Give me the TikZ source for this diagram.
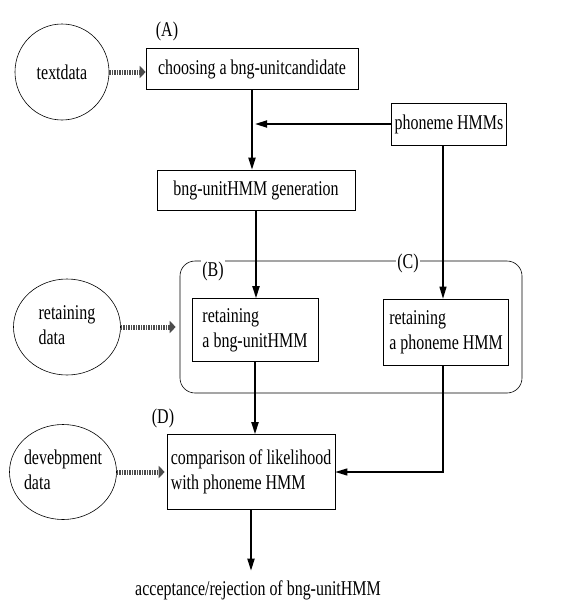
\documentclass[tikz,border=0pt]{standalone}
\usepackage{fontspec}
\setmainfont[FakeStretch=0.76]{Liberation Serif}
\usetikzlibrary{arrows.meta,positioning,shapes.geometric}
\newcommand{\squeeze}[1]{\makebox[0pt]{\begin{tabular}{@{}l@{}}#1\end{tabular}}}

\begin{document}
\begin{tikzpicture}[x=1pt, y=-1pt, semithick,
	every node/.style={font=\fontsize{21}{25}\selectfont},
    procbox/.style={draw, rectangle, align=left, inner sep=0pt},
    source/.style={draw, ellipse, inner sep=0pt},
    flow/.style={-{Triangle[length=12pt,width=7pt]}, line width=1.8pt},
    feed/.style={-{Triangle[length=12pt,width=7pt]}, line width=1.1pt},
    hatch/.style={line width=5pt, draw=black!70, dash pattern=on 1.4pt off 1.1pt,
        -{Triangle[length=6pt,width=12pt]}},
    tag/.style={fill=white, inner sep=1pt}
    ]
\useasboundingbox (0,0) rectangle (572,603);
% \draw[help lines, step=50] (0,0) grid (572,603);
\node[draw, rounded corners=15pt, minimum width=342, minimum height=132] (retrain) at (351,327) {};

\node[procbox, minimum width=212, minimum height=41] (choose) at (252,69) {choosing a bng-unitcandidate};
\node[procbox, minimum width=115, minimum height=42] (phon)   at (449,124) {phoneme HMMs};
\node[procbox, minimum width=198, minimum height=40] (gen)    at (256,190) {bng-unitHMM generation};
\node[procbox, minimum width=126, minimum height=63] (trlong) at (255,330) {retaining\\a bng-unitHMM};
\node[procbox, minimum width=125, minimum height=66] (trphon) at (446,332) {retaining\\a phoneme HMM};
\node[procbox, minimum width=168, minimum height=75] (comp)   at (251,472) {comparison of likelihood\\with phoneme HMM};
\node (result) at (258,590) {acceptance/rejection of bng-unitHMM};

\node[source, minimum width=94,  minimum height=96] (text)    at (62,72)  {textdata};
\node[source, minimum width=107, minimum height=96] (trdata)  at (67,327) {\squeeze{retaining\\data}};
\node[source, minimum width=107, minimum height=95] (devdata) at (63,472) {\squeeze{devebpment\\data}};

% labels of the steps
\node[tag] (tagA) at (167,31)  {(A)};
\node[tag] (tagB) at (213,271) {(B)};
\node[tag] (tagC) at (408,263) {(C)};
\node[tag] (tagD) at (163,418) {(D)};

% data feeding
\draw[hatch] (text.east)    -- (text.east -| choose.west);
\draw[hatch] (trdata.east)  -- ([xshift=-4pt]trdata.east -| retrain.west);
\draw[hatch] (devdata.east) -- ([xshift=-2pt]devdata.east -| comp.west);

% main flow
\draw[flow] (choose.south) -- (choose.south |- gen.north);
\draw[flow] (phon.west) -- ([xshift=3pt]phon.west -| choose.south);
\draw[flow] (gen.south) -- (gen.south |- trlong.north);
\draw[flow] (trlong.south) -- (trlong.south |- comp.north);
\draw[flow] (comp.south) -- ([yshift=6pt]comp.south |- result.north);
\draw[feed] ([xshift=-6pt]phon.south) -- ([xshift=-6pt]phon.south |- trphon.north);
\draw[feed] ([xshift=-3pt]trphon.south) |- (comp.east);
\end{tikzpicture}
\end{document}
